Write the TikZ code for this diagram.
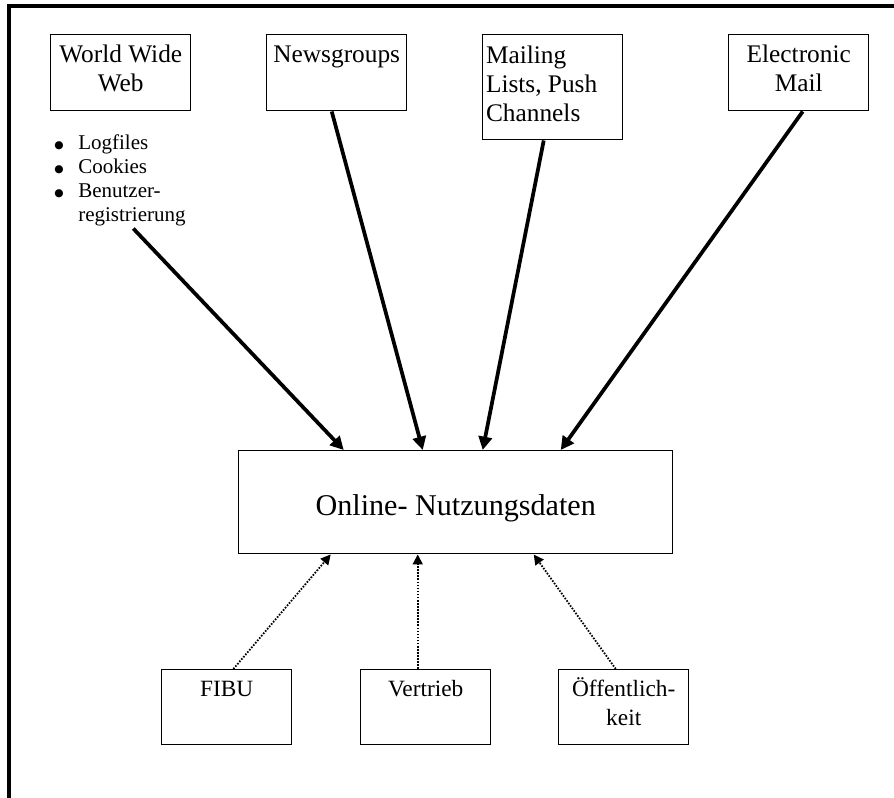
\documentclass[tikz,border=0pt]{standalone}
\usepackage{fontspec}
\setmainfont{Liberation Serif}
\newfontfamily\symfont{DejaVu Sans}
\usetikzlibrary{arrows.meta,calc}
\newcommand{\tbox}[4]{\parbox[c][#2][t]{#1}{\centering\rule{0pt}{#3}#4}}
\newcommand{\bigbullet}{\makebox[18pt][l]{\raisebox{0.9pt}{\symfont\fontsize{8pt}{8pt}\selectfont ●}}}
\begin{document}
\begin{tikzpicture}[x=0.75pt,y=-0.75pt,
  box/.style={draw,line width=1.1pt,inner sep=0pt,anchor=north west},
  big/.style={font=\fontsize{19pt}{21.75pt}\selectfont},
  small/.style={font=\fontsize{17.5pt}{21.5pt}\selectfont},
  flow/.style={line width=2.8pt,-{Triangle[length=10pt,width=10pt]}},
  aux/.style={line width=1.35pt,dash pattern=on 1.2pt off 1.1pt,-{Triangle[length=7.5pt,width=7.5pt]}}]
\useasboundingbox (0,0) rectangle (894,798);
\draw[line width=2.5pt] (9,798) -- (9,6) -- (894,6);
% top sources
\node[box,big] (www) at (50,34) {\tbox{105pt}{57pt}{21pt}{World Wide\\Web}};
\node[box,big] (news) at (266,34) {\tbox{105pt}{57pt}{21pt}{Newsgroups}};
\node[box,big] (mail) at (482,34) {\parbox[c][78.75pt][t]{105pt}{\raggedright\leftskip=2.5pt\rule{0pt}{21.5pt}Mailing\\Lists, Push\\Channels}};
\node[box,big] (email) at (728,34) {\tbox{105pt}{57pt}{21pt}{Electronic\\Mail}};
\node[anchor=north west,inner sep=0pt,font=\fontsize{15.75pt}{18pt}\selectfont] (list) at (54,133)
  {\parbox[c][71.25pt][t]{105pt}{\raggedright\rule{0pt}{12pt}\bigbullet Logfiles\\
   \bigbullet Cookies\\
   \bigbullet Benutzer-\\
   \hspace*{18pt}registrierung}};
% central
\node[box,font=\fontsize{22.6pt}{26pt}\selectfont] (main) at (238,450) {\tbox{325.5pt}{77.25pt}{48.75pt}{Online- Nutzungsdaten}};
% bottom sources
\node[box,small] (fibu) at (161,669) {\tbox{97.5pt}{56.25pt}{20.25pt}{FIBU}};
\node[box,small] (vert) at (360,669) {\tbox{97.5pt}{56.25pt}{20.25pt}{Vertrieb}};
\node[box,small] (oeff) at (558,669) {\tbox{97.5pt}{56.25pt}{20.25pt}{Öffentlich-\\keit}};
% arrows
\draw[flow] ([xshift=6.75pt]list.south) -- ([xshift=-84pt]main.north);
\draw[flow] ([xshift=-3.75pt]news.south) -- ([xshift=-24.75pt]main.north);
\draw[flow] ([xshift=-6.75pt]mail.south) -- ([xshift=20.25pt]main.north);
\draw[flow] ([xshift=3pt]email.south) -- ([xshift=78.75pt]main.north);
\draw[aux] ([xshift=5pt]fibu.north) -- ([xshift=-93.75pt]main.south);
\draw[aux] ([xshift=-6pt]vert.north) -- ([xshift=-28.5pt]main.south);
\draw[aux] ([xshift=-6pt]oeff.north) -- ([xshift=58.5pt]main.south);
\end{tikzpicture}
\end{document}
